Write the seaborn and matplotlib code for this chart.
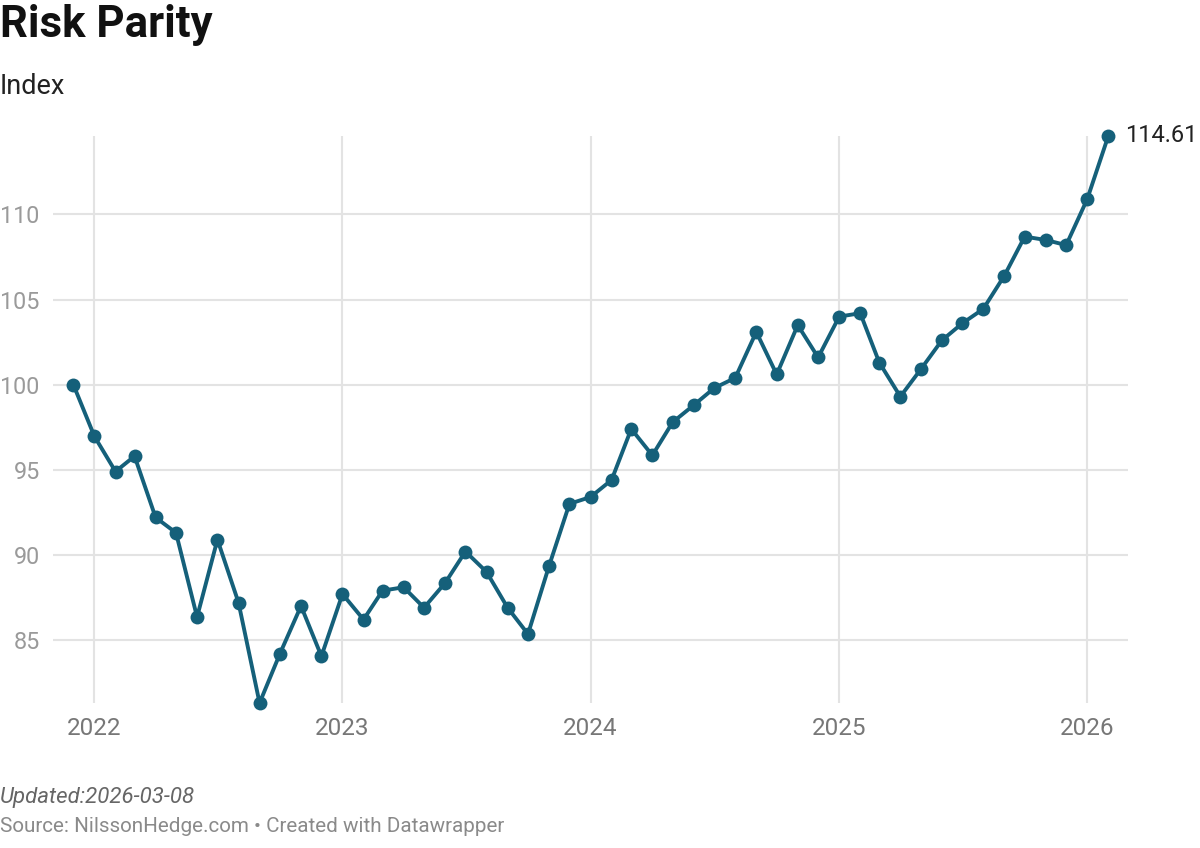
import pandas as pd
import matplotlib.pyplot as plt
import seaborn as sns

# monthly index values, Dec 2021 .. Feb 2026
dates = pd.date_range("2021-12-01", "2026-02-01", freq="MS")
values = [
    100.0, 96.96, 94.9, 95.8, 92.2, 91.3, 86.35, 90.9, 87.2, 81.3,
    84.2, 87.0, 84.05, 87.7, 86.2, 87.9, 88.1, 86.9, 88.35, 90.2,
    89.0, 86.9, 85.35, 89.35, 93.0, 93.4, 94.4, 97.4, 95.85, 97.8,
    98.8, 99.8, 100.4, 103.1, 100.6, 103.5, 101.6, 104.0, 104.2, 101.3,
    99.3, 100.9, 102.6, 103.6, 104.45, 106.4, 108.7, 108.5, 108.2, 110.9,
    114.61,
]
y_ticks = [85, 90, 95, 100, 105, 110]
x_ticks = ["2022", "2023", "2024", "2025", "2026"]

df = pd.DataFrame({"Date": dates, "Index": values})

sns.set_style("white")
plt.rcParams["font.family"] = ["Roboto", "DejaVu Sans"]

W, H = 1200, 848
fig = plt.figure(figsize=(W / 100, H / 100), dpi=100)
ax = fig.add_axes([53 / W, 1 - 703 / H, (1128 - 53) / W, (703 - 136) / H])

line_color = "#15607a"
sns.lineplot(data=df, x="Date", y="Index", ax=ax, color=line_color,
             linewidth=2.8, marker="o", markersize=10, markeredgewidth=0,
             clip_on=False, zorder=3)

ax.set_ylim(min(values), max(values))
ax.set_xlim(pd.Timestamp("2021-11-01"), pd.Timestamp("2026-03-02"))

for v in y_ticks:
    ax.axhline(v, color="#e3e3e3", linewidth=1.5, zorder=1)
for yr in x_ticks:
    ax.axvline(pd.Timestamp(f"{yr}-01-01"), color="#e3e3e3", linewidth=1.5, zorder=1)

ax.set_yticks(y_ticks)
ax.set_yticklabels([str(v) for v in y_ticks])
ax.set_xticks([pd.Timestamp(f"{yr}-01-01") for yr in x_ticks])
ax.set_xticklabels(x_ticks)
ax.tick_params(axis="y", length=0, pad=9.5, labelsize=16.8, labelcolor="#9a9a9a")
ax.tick_params(axis="x", length=0, pad=10, labelsize=17.5, labelcolor="#777777")
ax.set_xlabel("")
ax.set_ylabel("")
sns.despine(ax=ax, left=True, bottom=True)

ax.annotate(f"{values[-1]:.2f}", (dates[-1], values[-1]), xytext=(12, 0),
            textcoords="offset points", va="center", ha="left",
            fontsize=17, color="#222222", annotation_clip=False)

fig.text(0, 1 - 25 / H, "Risk Parity", fontsize=31.5, fontweight="bold",
         color="#111111", va="center", ha="left")
fig.text(0, 1 - 86 / H, "Index", fontsize=19.5, color="#222222",
         va="center", ha="left")
fig.text(0, 1 - 797 / H, "Updated:2026-03-08", fontsize=16, style="italic",
         color="#666666", va="center", ha="left")
fig.text(0, 1 - 827 / H, "Source: NilssonHedge.com \u2022 Created with Datawrapper",
         fontsize=14.9, color="#8a8a8a", va="center", ha="left")

fig.savefig("out.png", dpi=100)
